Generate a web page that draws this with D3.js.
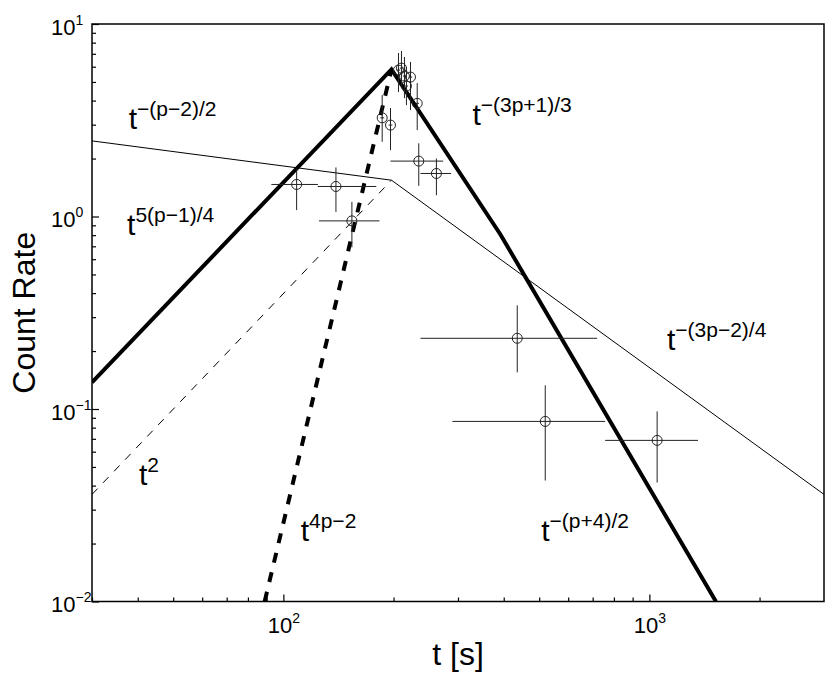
<!DOCTYPE html>
<html>
<head>
<meta charset="utf-8">
<script src="https://cdn.jsdelivr.net/npm/d3@7"></script>
<style>
  html, body { margin: 0; padding: 0; background: #fff; }
  svg { display: block; }
  text { font-family: "Liberation Sans", Arial, Helvetica, sans-serif; fill: #000; }
</style>
</head>
<body>
<svg id="chart" width="830" height="675"></svg>
<script>
// ---------- data ----------
const xDomain = [30, 3000];
const yDomain = [0.01, 10];

const xMajorTicks = [100, 1000];
const xMajorExp = ["2", "3"];
const xMinorTicks = [30, 40, 50, 60, 70, 80, 90, 200, 300, 400, 500, 600, 700, 800, 900, 2000];
const yMajorTicks = [0.01, 0.1, 1, 10];
const yMajorExp = ["−2", "−1", "0", "1"];
const yMinorTicks = [0.02, 0.03, 0.04, 0.05, 0.06, 0.07, 0.08, 0.09,
                     0.2, 0.3, 0.4, 0.5, 0.6, 0.7, 0.8, 0.9,
                     2, 3, 4, 5, 6, 7, 8, 9];

// model curves (break-point vertices)
const thickSolidT = [30, 197.4, 391.4, 1520];
const thickSolidR = [0.1375, 5.81, 0.809, 0.01];
const thinSolidT = [30, 197.4, 3000];
const thinSolidR = [2.47, 1.544, 0.036];
const thinDashT = [30, 197.4];
const thinDashR = [0.036, 1.544];
const thickDashT = [88.9, 197.4];
const thickDashR = [0.01, 5.81];

// observed points with errors
const obsT   = [108.7, 139.2, 153.9, 186.2, 196.2, 206.3, 210.2, 214.2, 222.5, 216.9, 232.1, 234.4, 261.9, 435.5, 519.4, 1050];
const obsTlo = [92.7, 124.1, 125.1, 184.0, 194.0, 204.0, 208.0, 212.0, 220.0, 215.0, 230.0, 196.2, 236.9, 236.9, 289.6, 757];
const obsThi = [124.3, 179.4, 183.1, 188.5, 198.5, 208.5, 212.5, 216.5, 225.0, 219.0, 234.5, 273.2, 287.3, 719.7, 757, 1358];
const obsR   = [1.467, 1.432, 0.949, 3.256, 2.985, 5.765, 5.90, 5.365, 5.30, 4.76, 3.87, 1.94, 1.673, 0.233, 0.0862, 0.0687];
const obsRlo = [1.079, 1.057, 0.692, 2.443, 2.212, 4.43, 4.82, 4.12, 3.57, 3.79, 2.81, 1.443, 1.29, 0.155, 0.0425, 0.0415];
const obsRhi = [1.777, 1.798, 1.191, 4.27, 3.66, 7.07, 7.24, 6.74, 6.35, 5.98, 4.93, 2.40, 2.00, 0.3457, 0.1327, 0.0972];

// slope annotations (anchored in data units)
const annBase = ["t", "t", "t", "t", "t", "t", "t"];
const annSup  = ["−(p−2)/2", "5(p−1)/4", "2", "4p−2", "−(3p+1)/3", "−(3p−2)/4", "−(p+4)/2"];
const annT    = [37.8, 37.4, 40.3, 111.5, 328.4, 1117, 506.5];
const annR    = [2.84, 0.799, 0.0401, 0.0207, 2.985, 0.2017, 0.0207];

const xTitle = "t [s]";
const yTitle = "Count Rate";

// ---------- layout ----------
const L = 92, R = 824, T = 24, B = 601.5;
const svg = d3.select("#chart");
const x = d3.scaleLog().domain(xDomain).range([L, R]);
const y = d3.scaleLog().domain(yDomain).range([B, T]);

// ---------- axes ----------
const gx = svg.append("g").attr("transform", `translate(0,${B})`);
gx.append("g").call(d3.axisBottom(x).tickValues(xMinorTicks).tickSize(-4).tickFormat(""));
const gxMaj = gx.append("g").call(d3.axisBottom(x).tickValues(xMajorTicks).tickSize(-7).tickFormat(""));
const gy = svg.append("g").attr("transform", `translate(${L},0)`);
gy.append("g").call(d3.axisLeft(y).tickValues(yMinorTicks).tickSize(-4).tickFormat(""));
const gyMaj = gy.append("g").call(d3.axisLeft(y).tickValues(yMajorTicks).tickSize(-7).tickFormat(""));
svg.selectAll(".domain").remove();
svg.selectAll(".tick line").attr("stroke", "#000").attr("stroke-width", 1.2);

// x tick labels
gxMaj.selectAll(".tick").each(function(d, i) {
  const t = d3.select(this).select("text");
  t.attr("y", 31).attr("dy", null).attr("text-anchor", "middle")
   .style("font-size", "22px").attr("fill", "#000")
   .attr("font-family", "Liberation Sans, Arial, sans-serif");
  t.text(null);
  t.append("tspan").text("10");
  t.append("tspan").attr("dy", -10).style("font-size", "14px").text(xMajorExp[i]);
});
// y tick labels
gyMaj.selectAll(".tick").each(function(d, i) {
  const t = d3.select(this).select("text");
  t.attr("x", -41).attr("y", 10).attr("dy", null).attr("text-anchor", "start")
   .style("font-size", "22px").attr("fill", "#000")
   .attr("font-family", "Liberation Sans, Arial, sans-serif");
  t.text(null);
  t.append("tspan").text("10");
  t.append("tspan").attr("dy", -10).style("font-size", "14px").text(yMajorExp[i]);
});

// frame
svg.append("rect").attr("x", L).attr("y", T).attr("width", R - L).attr("height", B - T)
  .attr("fill", "none").attr("stroke", "#000").attr("stroke-width", 1.5);

// ---------- curves ----------
const plot = svg.append("g");
const clip = svg.append("clipPath").attr("id", "clip").append("rect")
  .attr("x", L).attr("y", T).attr("width", R - L).attr("height", B - T);
plot.attr("clip-path", "url(#clip)");
const line = d3.line().x(d => x(d[0])).y(d => y(d[1]));
function pts(ts, rs) { return ts.map((t, i) => [t, rs[i]]); }

plot.append("path").attr("d", line(pts(thinSolidT, thinSolidR)))
  .attr("fill", "none").attr("stroke", "#000").attr("stroke-width", 1);
plot.append("path").attr("d", line(pts(thinDashT, thinDashR)))
  .attr("fill", "none").attr("stroke", "#000").attr("stroke-width", 1)
  .attr("stroke-dasharray", "8,8");
plot.append("path").attr("d", line(pts(thickDashT, thickDashR)))
  .attr("fill", "none").attr("stroke", "#000").attr("stroke-width", 4)
  .attr("stroke-dasharray", "10,10");
plot.append("path").attr("d", line(pts(thickSolidT, thickSolidR)))
  .attr("fill", "none").attr("stroke", "#000").attr("stroke-width", 4)
  .attr("stroke-linejoin", "miter");

// ---------- data points ----------
const obs = obsT.map((t, i) => ({t, tlo: obsTlo[i], thi: obsThi[i], r: obsR[i], rlo: obsRlo[i], rhi: obsRhi[i]}));
const gp = plot.append("g").attr("stroke", "#222").attr("stroke-width", 1).attr("fill", "none");
gp.selectAll("line.h").data(obs).join("line").attr("class", "h")
  .attr("x1", d => x(d.tlo)).attr("x2", d => x(d.thi))
  .attr("y1", d => y(d.r)).attr("y2", d => y(d.r));
gp.selectAll("line.v").data(obs).join("line").attr("class", "v")
  .attr("x1", d => x(d.t)).attr("x2", d => x(d.t))
  .attr("y1", d => y(d.rlo)).attr("y2", d => y(d.rhi));
gp.selectAll("circle").data(obs).join("circle")
  .attr("cx", d => x(d.t)).attr("cy", d => y(d.r)).attr("r", 5);

// ---------- annotations ----------
annBase.forEach((b, i) => {
  const t = svg.append("text").attr("x", x(annT[i])).attr("y", y(annR[i]))
    .style("font-size", "30px");
  t.append("tspan").text(b);
  t.append("tspan").attr("dy", -13).style("font-size", "21px").text(annSup[i]);
});

// ---------- titles ----------
svg.append("text").attr("x", (L + R) / 2).attr("y", 665).attr("text-anchor", "middle")
  .style("font-size", "32px").text(xTitle);
svg.append("text").attr("transform", `translate(35,${(T + B) / 2}) rotate(-90)`)
  .attr("text-anchor", "middle").style("font-size", "32px").text(yTitle);
</script>
</body>
</html>
